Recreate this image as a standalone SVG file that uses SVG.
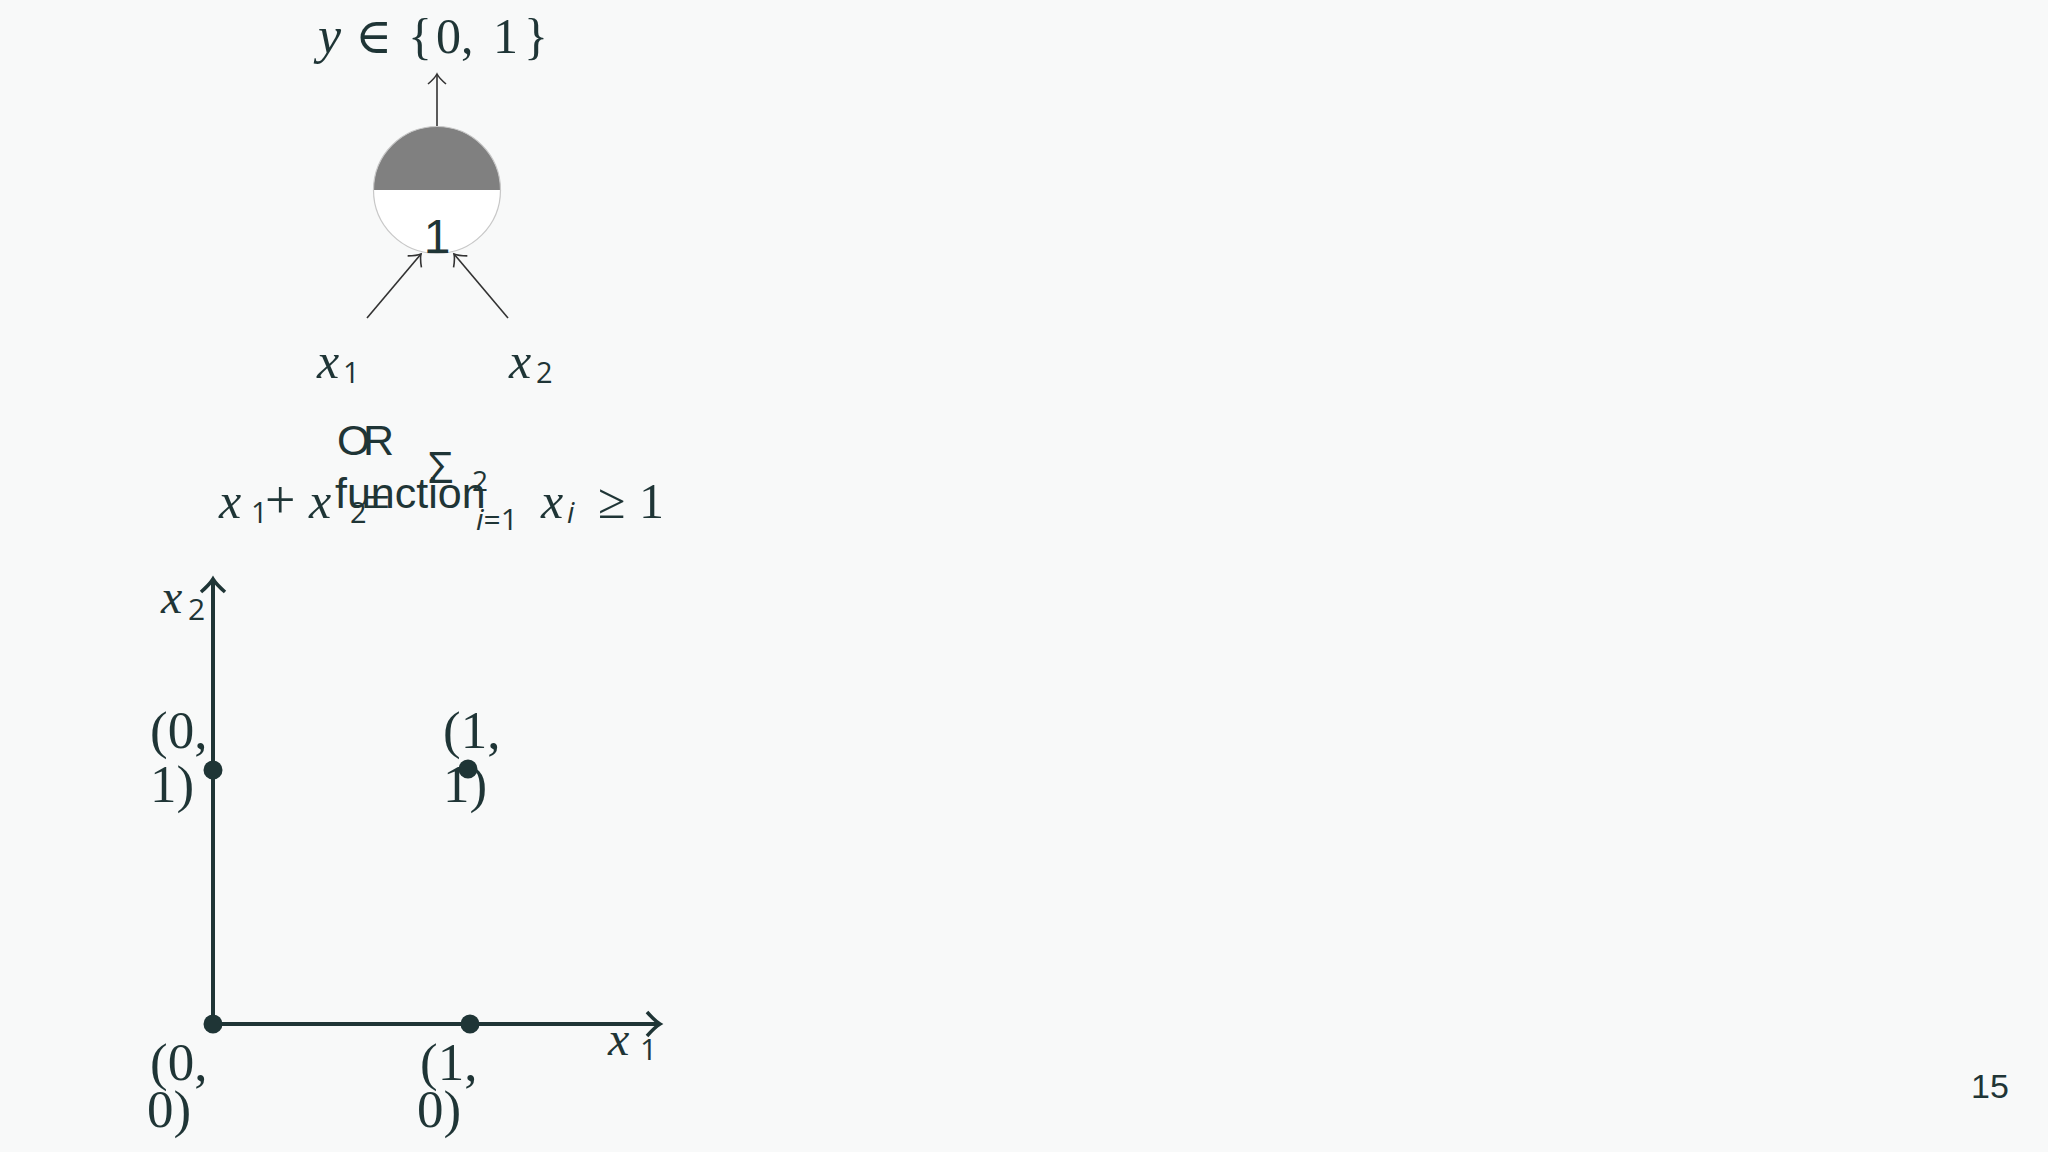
<svg xmlns="http://www.w3.org/2000/svg" width="2048" height="1152" viewBox="0 0 2048 1152">
<style>
.serif{font-family:"Liberation Serif","DejaVu Serif",serif;fill:#1f3536}
.it{font-style:italic}
.sans{font-family:"Open Sans","Liberation Sans",sans-serif;fill:#1f3536}
.arial{font-family:"Liberation Sans",Arial,sans-serif;fill:#1f3536}
.thin{stroke:#333;stroke-width:1.6;fill:none}
.axis{stroke:#1f3536;stroke-width:4;fill:none}
.pt{fill:#1f3536}
</style>
<defs>
<marker id="ahThin" markerUnits="userSpaceOnUse" refX="0" refY="0" orient="auto" overflow="visible">
<path d="M-10,-9 Q-4,-2 0,0 Q-4,2 -10,9" fill="none" stroke="#333" stroke-width="1.6"/>
</marker>
<marker id="ahAxis" markerUnits="userSpaceOnUse" refX="0" refY="0" orient="auto" overflow="visible">
<path d="M-13,-12 Q-5,-3 0,0 Q-5,3 -13,12" fill="none" stroke="#1f3536" stroke-width="3.5"/>
</marker>
</defs>
<rect width="2048" height="1152" fill="#f8f9f9"/>

<g id="output-label">
<text class="serif" font-size="50" y="53"><tspan x="318" class="it" font-size="52">y</tspan><tspan x="355">∈</tspan><tspan x="408">{</tspan><tspan x="436">0,</tspan><tspan x="493">1</tspan><tspan x="524">}</tspan></text>
</g>

<g id="connectors">
<line class="thin" x1="437" y1="127" x2="437" y2="74" marker-end="url(#ahThin)"/>
<line class="thin" x1="367" y1="318" x2="421" y2="254" marker-end="url(#ahThin)"/>
<line class="thin" x1="508" y1="318" x2="454" y2="254" marker-end="url(#ahThin)"/>
</g>

<g id="neuron">
<path d="M373.5,190 A63.5,63.5 0 0 1 500.5,190 Z" fill="#808080"/>
<path d="M373.5,190 A63.5,63.5 0 0 0 500.5,190 Z" fill="#ffffff"/>
<circle cx="437" cy="190" r="63.5" fill="none" stroke="#c8c8c8" stroke-width="1.2"/>
<text class="arial" font-size="48" x="437" y="253" text-anchor="middle">1</text>
</g>

<g id="input-x1">
<text y="378"><tspan class="serif it" font-size="50" x="317">x</tspan><tspan class="sans" font-size="29" x="343" dy="5">1</tspan></text>
</g>
<g id="input-x2">
<text y="378"><tspan class="serif it" font-size="50" x="509">x</tspan><tspan class="sans" font-size="29" x="536" dy="5">2</tspan></text>
</g>

<g id="caption">
<text class="arial" font-size="43"><tspan x="337" y="455">O</tspan><tspan x="363" y="455">R</tspan><tspan x="335" y="508">function</tspan></text>
<text y="518">
<tspan class="serif it" font-size="50" x="219">x</tspan>
<tspan class="sans" font-size="29" x="251" dy="5">1</tspan>
<tspan class="serif" font-size="54" x="265" dy="-5">+</tspan>
<tspan class="serif it" font-size="50" x="309">x</tspan>
<tspan class="sans" font-size="29" x="350" dy="5">2</tspan>
<tspan class="serif" font-size="48" x="363" dy="-5">=</tspan>
</text>
<text class="sans" font-size="44" x="428" y="483">Σ</text>
<text class="sans" font-size="28" x="472" y="491">2</text>
<text class="sans" font-size="30" x="476" y="530"><tspan font-style="italic">i</tspan>=1</text>
<text y="518"><tspan class="serif it" font-size="50" x="541">x</tspan><tspan class="sans it" font-size="29" x="567" dy="5">i</tspan></text>
<text class="serif" font-size="50" x="598" y="518">≥</text>
<text class="serif" font-size="50" x="639" y="518">1</text>
</g>

<g id="plot">
<line class="axis" x1="213" y1="1024" x2="213" y2="579" marker-end="url(#ahAxis)"/>
<line class="axis" x1="213" y1="1024" x2="660" y2="1024" marker-end="url(#ahAxis)"/>
<text y="613"><tspan class="serif it" font-size="48" x="161">x</tspan><tspan class="sans" font-size="30" x="188" dy="7">2</tspan></text>
<text y="1055"><tspan class="serif it" font-size="48" x="608">x</tspan><tspan class="sans" font-size="30" x="640" dy="5">1</tspan></text>
</g>

<g id="point-00">
<circle class="pt" cx="213" cy="1024" r="9.5"/>
<text class="serif" font-size="53"><tspan x="150" y="1080">(0,</tspan><tspan x="147" y="1127">0)</tspan></text>
</g>
<g id="point-10">
<circle class="pt" cx="470" cy="1024" r="9.5"/>
<text class="serif" font-size="53"><tspan x="420" y="1080">(1,</tspan><tspan x="417" y="1127">0)</tspan></text>
</g>
<g id="point-01">
<circle class="pt" cx="213" cy="770" r="9.5"/>
<text class="serif" font-size="53"><tspan x="150" y="748">(0,</tspan><tspan x="150" y="802">1)</tspan></text>
</g>
<g id="point-11">
<circle class="pt" cx="468" cy="769" r="9.5"/>
<text class="serif" font-size="53"><tspan x="443" y="748">(1,</tspan><tspan x="443" y="802">1)</tspan></text>
</g>

<g id="page-number">
<text class="arial" font-size="34" x="1971" y="1098">15</text>
</g>
</svg>
